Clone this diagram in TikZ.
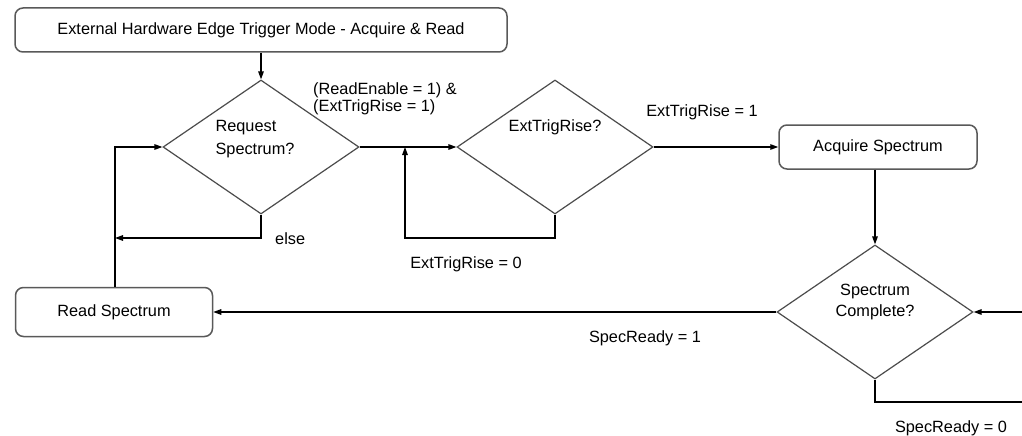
\documentclass[tikz,border=0pt]{standalone}
\usepackage{fontspec}
\setmainfont{Liberation Sans}
\usetikzlibrary{shapes.geometric,arrows.meta}
\begin{document}
\begin{tikzpicture}[x=1pt,y=-1pt,
  font=\fontsize{16.3}{20}\selectfont,
  box/.style={draw=black!65,line width=1.5pt,rounded corners=8pt,inner sep=0pt,minimum height=44pt},
  decision/.style={diamond,draw=black!70,line width=1.2pt,minimum width=196pt,minimum height=134pt,inner sep=0pt},
  arr/.style={line width=1.3pt,-{Triangle[length=8pt,width=5.5pt]}},
  ln/.style={line width=1.3pt},
  lbl/.style={inner sep=0pt}]
\useasboundingbox[fill=white] (0,0) rectangle (1022,436);

% boxes
\node[box,minimum width=492pt] (title) at (261,30) {External Hardware Edge Trigger Mode - Acquire \& Read};
\node[box,minimum width=198pt] (acq) at (878,147) {Acquire Spectrum};
\node[box,minimum width=197pt,minimum height=49pt] (rs) at (114,312) {Read Spectrum};

% decisions
\node[decision] (d1) at (261,147) {\raisebox{4pt}[0pt][0pt]{\begin{tabular}{@{}l@{}}Request\\[3pt]Spectrum?\end{tabular}}\kern12pt};
\node[decision] (d2) at (555,147) {\raisebox{16pt}[0pt][0pt]{ExtTrigRise?}};
\node[decision] (d3) at (875,312) {\raisebox{6pt}[0pt][0pt]{\begin{tabular}{@{}c@{}}Spectrum\\[1pt]Complete?\end{tabular}}};

% helper coordinates
\coordinate (e1) at (115,238);
\coordinate (l1) at (405,238);
\coordinate (j1) at (405,147);
\coordinate (r1) at (1022,402);
\coordinate (r2) at (1022,312);
\coordinate (k1) at (115,147);

% connectors
\draw[arr] (title.south) -- (d1.north);
\draw[arr] (d1.east) -- (d2.west);
\draw[arr] (d2.east) -- (acq.west);
\draw[arr] (acq.south -| d3.north) -- (d3.north);
\draw[arr] (d3.west) -- (rs.east);
\draw[arr] (d1.south) |- (e1);
\draw[arr] (d2.south) |- (l1) -- (j1);
\draw[arr] (rs.north -| k1) -- (k1) -- (d1.west);
\draw[ln] (d3.south) |- (r1);
\draw[arr] (r2) -- (d3.east);

% labels
\node[lbl,anchor=west,align=left,font=\fontsize{16.3}{17}\selectfont] (lab1) at (313,99) {(ReadEnable = 1) \&\\(ExtTrigRise = 1)};
\node[lbl] (lab2) at (702,112) {ExtTrigRise = 1};
\node[lbl] (lab3) at (466,264) {ExtTrigRise = 0};
\node[lbl] (lab4) at (645,338) {SpecReady = 1};
\node[lbl] (lab5) at (951,428) {SpecReady = 0};
\node[lbl,anchor=west] (lab6) at (275,239) {else};
\end{tikzpicture}
\end{document}
